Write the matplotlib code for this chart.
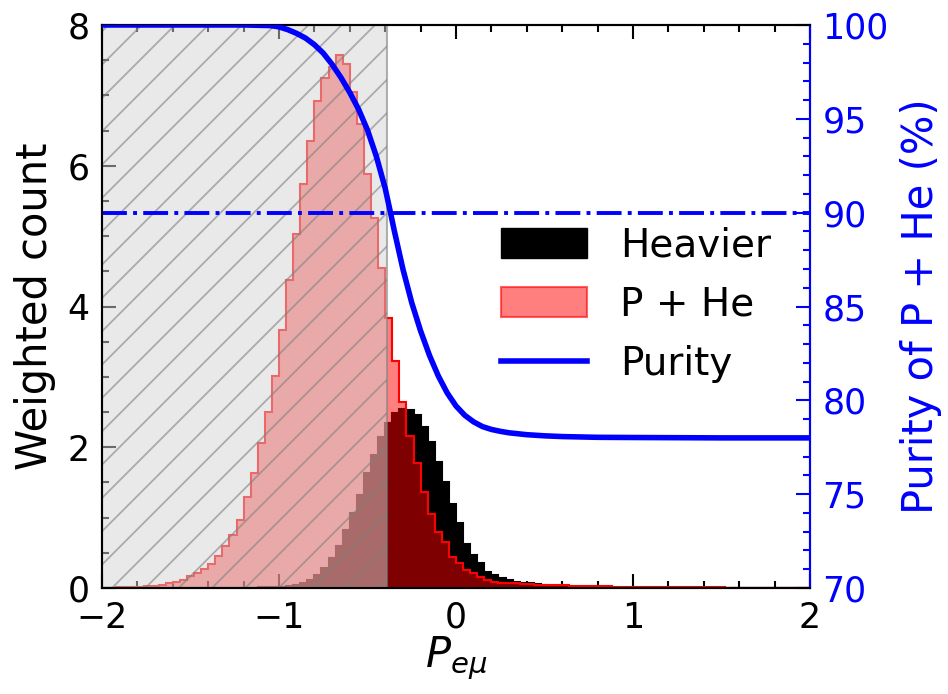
import numpy as np
import matplotlib
matplotlib.use("Agg")
import matplotlib.pyplot as plt
from matplotlib.patches import Patch
from matplotlib.lines import Line2D
from matplotlib.ticker import MultipleLocator

# --- data ---
bin_edges = np.linspace(-2, 2, 101)  # 0.04 wide bins

# P + He weighted counts per bin
phe = [0.005, 0.005, 0.01, 0.01, 0.015, 0.02, 0.025, 0.035, 0.045, 0.07,
       0.09, 0.12, 0.17, 0.22, 0.27, 0.34, 0.45, 0.60, 0.76, 0.96,
       1.29, 1.63, 2.06, 2.50, 3.01, 3.66, 4.38, 5.03, 5.74, 6.35,
       6.92, 7.24, 7.41, 7.57, 7.44, 7.05, 6.59, 5.88, 5.26, 4.54,
       3.84, 3.22, 2.65, 2.16, 1.77, 1.37, 1.05, 0.80, 0.65, 0.44,
       0.35, 0.25, 0.21, 0.16, 0.11, 0.09, 0.075, 0.07, 0.065, 0.06,
       0.055, 0.05, 0.045, 0.045, 0.04, 0.04, 0.035, 0.03, 0.03, 0.03,
       0.025, 0.025, 0.02, 0.02, 0.02, 0.02, 0.018, 0.016, 0.015, 0.014,
       0.013, 0.012, 0.011, 0.01, 0.01, 0.009, 0.008, 0.008, 0.007, 0.007,
       0.006, 0.006, 0.005, 0.005, 0.005, 0.004, 0.004, 0.004, 0.003, 0.003]

# heavier nuclei weighted counts per bin
heavier = [0, 0, 0, 0, 0, 0, 0, 0, 0, 0,
           0, 0, 0, 0, 0, 0, 0, 0, 0.002, 0.003,
           0.005, 0.007, 0.01, 0.01, 0.015, 0.02, 0.03, 0.05, 0.07, 0.11,
           0.18, 0.29, 0.42, 0.60, 0.83, 1.06, 1.32, 1.63, 1.89, 2.14,
           2.34, 2.48, 2.54, 2.53, 2.46, 2.29, 2.08, 1.79, 1.51, 1.20,
           0.92, 0.63, 0.47, 0.35, 0.23, 0.18, 0.14, 0.11, 0.09, 0.075,
           0.065, 0.055, 0.045, 0.035, 0.03, 0.025, 0.02, 0.015, 0.012, 0.01,
           0.008, 0.006, 0.005, 0.004, 0.003, 0.002, 0, 0, 0, 0,
           0, 0, 0, 0, 0, 0, 0, 0, 0, 0,
           0, 0, 0, 0, 0, 0, 0, 0, 0, 0]

# purity of P + He (%)
purity_x = [-2.0, -1.2, -1.05, -1.0, -0.95, -0.9, -0.85, -0.8, -0.75, -0.7,
            -0.65, -0.6, -0.55, -0.5, -0.45, -0.4, -0.37, -0.35, -0.3, -0.25,
            -0.2, -0.15, -0.1, -0.05, 0.0, 0.05, 0.1, 0.15, 0.2, 0.25,
            0.3, 0.4, 0.5, 0.6, 0.8, 1.0, 1.5, 2.0]
purity_y = [100.0, 100.0, 99.97, 99.9, 99.75, 99.55, 99.3, 98.95, 98.5, 97.9,
            97.2, 96.4, 95.5, 94.4, 93.0, 91.3, 90.0, 89.1, 87.0, 85.2,
            83.7, 82.4, 81.3, 80.4, 79.7, 79.2, 78.85, 78.6, 78.45, 78.35,
            78.27, 78.17, 78.11, 78.07, 78.03, 78.02, 78.0, 78.0]

cut = -0.39
purity_target = 90

plt.rcParams["font.family"] = "DejaVu Sans"
plt.rcParams["hatch.linewidth"] = 1.3

fig = plt.figure(figsize=(9.48, 6.94), dpi=100)
ax = fig.add_axes([0.1076, 0.1527, 0.7468, 0.8113])

centers = 0.5 * (bin_edges[1:] + bin_edges[:-1])
ax.hist(centers, bins=bin_edges, weights=heavier, histtype="stepfilled",
        facecolor="black", edgecolor="black", lw=1.5, zorder=1)
ax.hist(centers, bins=bin_edges, weights=phe, histtype="stepfilled",
        facecolor=(1, 0, 0, 0.5), edgecolor="red", lw=1.5, zorder=2)
ax.axvspan(-2, cut, facecolor=(0.83, 0.83, 0.83, 0.5), edgecolor=(0.5, 0.5, 0.5, 0.6),
           hatch="/", lw=1.5, zorder=3)

ax.set_xlim(-2, 2)
ax.set_ylim(0, 8)
ax.set_xlabel(r"$P_{e\mu}$", fontsize=30, labelpad=0)
ax.set_ylabel("Weighted count", fontsize=30, labelpad=8)
ax.xaxis.set_major_locator(MultipleLocator(1))
ax.xaxis.set_minor_locator(MultipleLocator(0.2))
ax.yaxis.set_major_locator(MultipleLocator(2))
ax.yaxis.set_minor_locator(MultipleLocator(0.5))
ax.tick_params(which="both", direction="in", top=True, labelsize=25, width=1.5)
ax.tick_params(which="major", length=10)
ax.tick_params(which="minor", length=5)
ax.tick_params(axis="y", pad=9)
ax.tick_params(axis="x", pad=9)
for s in ax.spines.values():
    s.set_linewidth(1.5)

ax2 = ax.twinx()
ax2.plot(purity_x, purity_y, color="blue", lw=4, zorder=5)
ax2.axhline(purity_target, color="blue", ls="-.", lw=2.8)
ax2.set_ylim(70, 100)
ax2.set_ylabel("Purity of P + He (%)", fontsize=30, color="blue", labelpad=8)
ax2.yaxis.set_major_locator(MultipleLocator(5))
ax2.yaxis.set_minor_locator(MultipleLocator(1))
ax2.tick_params(which="both", direction="in", labelsize=25, width=1.5,
                colors="blue", pad=9)
ax2.tick_params(which="major", length=10)
ax2.tick_params(which="minor", length=5)
for s in ax2.spines.values():
    s.set_linewidth(1.5)
ax2.spines["right"].set_color("blue")

handles = [Patch(facecolor="black", edgecolor="black", label="Heavier"),
           Patch(facecolor=(1, 0, 0, 0.5), edgecolor=(1, 0, 0, 0.6), lw=1.5, label="P + He"),
           Line2D([], [], color="blue", lw=4, label="Purity")]
ax2.legend(handles=handles, loc="center left", bbox_to_anchor=(0.542, 0.503),
           borderaxespad=0, frameon=False, fontsize=28, handlelength=2.2,
           handleheight=0.8, handletextpad=0.85, labelspacing=0.55)

fig.savefig("out.png", dpi=100)
